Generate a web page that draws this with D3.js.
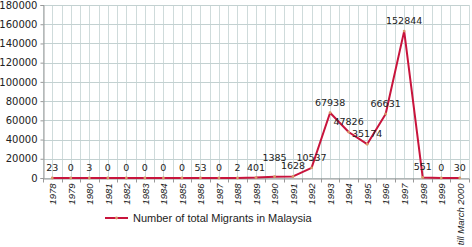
<!DOCTYPE html>
<html><head><meta charset="utf-8">
<script src="https://cdn.jsdelivr.net/npm/d3@7"></script>
<style>body{margin:0;background:#fff}svg{display:block}</style>
</head><body><svg id="c" width="472" height="247"></svg>
<script>
const categories = ["1978","1979","1980","1981","1982","1983","1984","1985","1986","1987","1988","1989","1990","1991","1992","1993","1994","1995","1996","1997","1998","1999","till March 2000"];
const migrants = [23,0,3,0,0,0,0,0,53,0,2,401,1385,1628,10537,67938,47826,35174,66631,152844,551,0,30];
const yTicks = [0,20000,40000,60000,80000,100000,120000,140000,160000,180000];
const seriesName = "Number of total Migrants in Malaysia";

const svg = d3.select("#c");
const L = 43, R = 469, T = 5, B = 178;
const x = d3.scalePoint().domain(categories).range([L, R]).padding(0.5);
const y = d3.scaleLinear().domain([0, 180000]).range([B, T]);
const step = x.step();

// vertical grid (every half category)
const g = svg.append("g");
for (let i = 0; i <= categories.length * 2; i++) {
  const gx = Math.round(L + i * step / 2) + 0.5;
  g.append("line").attr("x1", gx).attr("x2", gx).attr("y1", T).attr("y2", B).attr("stroke", "#cfdbdb").attr("stroke-width", 1);
}
// horizontal grid
yTicks.forEach(t => {
  const gy = Math.round(y(t)) + 0.5;
  g.append("line").attr("x1", L).attr("x2", R).attr("y1", gy).attr("y2", gy).attr("stroke", "#c3d1d1").attr("stroke-width", 1);
});

// y axis
const ya = svg.append("g").attr("transform", `translate(${L + 0.5},0)`)
  .call(d3.axisLeft(y).tickValues(yTicks).tickFormat(d3.format("d")).tickSize(3).tickPadding(3));
ya.select(".domain").attr("stroke", "#999");
ya.selectAll(".tick line").attr("stroke", "#999");
ya.selectAll("text").attr("font-family", "DejaVu Sans").attr("font-size", 10).attr("fill", "#222");

// x axis
const xa = svg.append("g").attr("transform", `translate(0,${B + 0.5})`)
  .call(d3.axisBottom(x).tickSize(0).tickPadding(0));
xa.select(".domain").attr("stroke", "#999");
xa.selectAll(".tick text")
  .attr("font-family", "Liberation Sans").attr("font-style", "italic").attr("font-size", 9.5).attr("fill", "#222")
  .attr("transform", "rotate(-90)").attr("text-anchor", "end").attr("x", -5).attr("y", 0).attr("dy", "0.35em");
// boundary ticks
for (let i = 0; i <= categories.length; i++) {
  const tx = Math.round(L + i * step) + 0.5;
  xa.append("line").attr("x1", tx).attr("x2", tx).attr("y1", 0).attr("y2", 4).attr("stroke", "#999");
}

// line
const line = d3.line().x((d, i) => x(categories[i])).y(d => y(d));
svg.append("path").datum(migrants).attr("d", line).attr("fill", "none")
  .attr("stroke", "#c8143c").attr("stroke-width", 2).attr("stroke-linejoin", "round");
svg.selectAll("circle.pt").data(migrants).join("circle").attr("class", "pt")
  .attr("cx", (d, i) => x(categories[i])).attr("cy", d => y(d)).attr("r", 1.4).attr("fill", "#d89a6a");

// data labels
const nudge = {"1990": -9};
svg.selectAll("text.lbl").data(migrants).join("text").attr("class", "lbl")
  .attr("x", (d, i) => x(categories[i]))
  .attr("y", (d, i) => y(d) - 7 + (nudge[categories[i]] || 0))
  .attr("text-anchor", "middle").attr("font-family", "DejaVu Sans").attr("font-size", 9.5).attr("fill", "#222")
  .text(d => d);

// legend
const lg = svg.append("g");
lg.append("line").attr("x1", 105).attr("x2", 128).attr("y1", 218).attr("y2", 218).attr("stroke", "#c8143c").attr("stroke-width", 2);
lg.append("circle").attr("cx", 116.5).attr("cy", 218).attr("r", 1.4).attr("fill", "#d89a6a");
lg.append("text").attr("x", 133).attr("y", 222).attr("font-family", "Liberation Sans").attr("font-size", 11).attr("fill", "#222").text(seriesName);
</script></body></html>
